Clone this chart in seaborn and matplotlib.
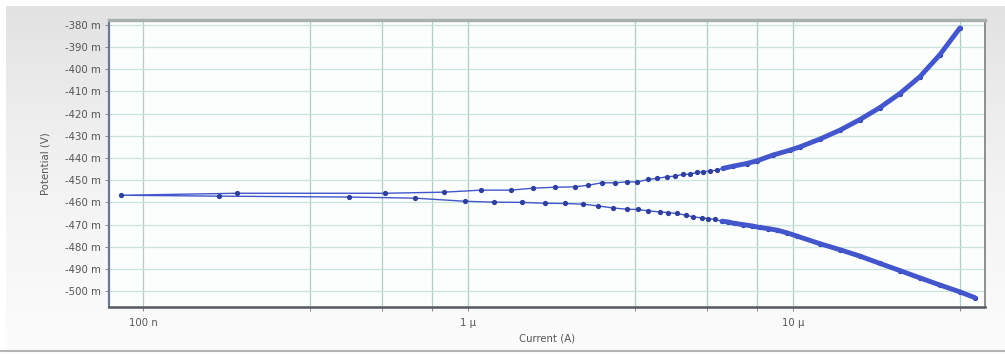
import numpy as np
import pandas as pd
import matplotlib
matplotlib.use("Agg")
import matplotlib.pyplot as plt
from matplotlib.lines import Line2D
from matplotlib.colors import LinearSegmentedColormap
from matplotlib.ticker import FixedLocator, FixedFormatter, FuncFormatter, NullFormatter
import seaborn as sns

# Cathodic branch of the polarisation sweep (high current -> corrosion potential)
cathodic_current_uA = [36.3, 32.65, 28.33, 24.60, 21.34, 18.53, 16.08, 13.95, 12.11,
                       10.29, 9.59, 8.93, 8.38, 7.91, 7.48, 7.02, 6.63, 6.31, 6.05,
                       5.75, 5.48, 5.25, 4.92, 4.69, 4.40, 4.125, 3.90, 3.58, 3.334,
                       3.085, 2.793, 2.512, 2.259, 1.988, 1.725, 1.466, 1.202, 0.979, 0.687,
                       0.4305, 0.1714]
cathodic_potential_mV = [-502.9, -500.3, -497.2, -494.0, -490.7, -487.5, -484.2, -481.3, -478.6,
                         -475.2, -473.7, -472.5, -471.8, -471.3, -470.6, -470.0, -469.5, -468.8, -468.5,
                         -467.7, -467.3, -467.0, -466.5, -465.8, -465.0, -464.6, -464.3, -463.8, -463.2,
                         -463.1, -462.5, -461.6, -460.8, -460.5, -460.4, -460.0, -459.9, -459.5, -458.1,
                         -457.6, -457.2]

# Point of minimum current (near the corrosion potential)
corrosion_current_uA = [0.0855]
corrosion_potential_mV = [-456.8]

# Anodic branch (corrosion potential -> end of sweep)
anodic_current_uA = [0.1946, 0.5554, 0.8436, 1.096, 1.356, 1.585, 1.852, 2.134, 2.34, 2.58,
                     2.83, 3.085, 3.31, 3.58, 3.82, 4.09, 4.33, 4.59, 4.82, 5.07,
                     5.29, 5.56, 5.84, 6.09, 6.54, 7.21, 7.75, 8.68, 9.79, 10.51,
                     12.11, 13.95, 16.08, 18.53, 21.34, 24.60, 28.33, 32.65]
anodic_potential_mV = [-455.9, -455.9, -455.4, -454.5, -454.5, -453.6, -453.2, -453.0, -452.3, -451.2,
                       -451.2, -450.8, -450.8, -449.7, -449.2, -448.5, -448.2, -447.4, -447.3, -446.5,
                       -446.3, -445.8, -445.5, -444.7, -443.7, -442.5, -441.3, -438.7, -436.5, -435.0,
                       -431.5, -427.5, -422.7, -417.3, -411.0, -403.4, -393.5, -381.5]

potential_ticks_mV = [-380, -390, -400, -410, -420, -430, -440, -450, -460, -470, -480, -490, -500]
current_ticks_A = [1e-7, 1e-6, 1e-5]
current_tick_labels = ["100 n", "1 \u00b5", "10 \u00b5"]

# ---------------------------------------------------------------------------
branch = (["cathodic"] * len(cathodic_current_uA) + ["corrosion"]
          + ["anodic"] * len(anodic_current_uA))
df = pd.DataFrame({
    "current": np.array(cathodic_current_uA + corrosion_current_uA + anodic_current_uA) * 1e-6,
    "potential": np.array(cathodic_potential_mV + corrosion_potential_mV + anodic_potential_mV) * 1e-3,
    "branch": branch,
})

sns.set_theme(style="white")
plt.rcParams["font.family"] = ["DejaVu Sans"]

W, H = 1005, 354
fig = plt.figure(figsize=(W / 100, H / 100), dpi=100)
fig.patch.set_facecolor("white")

# soft grey panel behind the chart
bg = fig.add_axes([6 / W, 4 / H, 1 - 6 / W, 1 - 10 / H], zorder=-10)
bg.axis("off")
panel = LinearSegmentedColormap.from_list("panel", ["#e2e2e2", "#eeeeee", "#f6f6f6", "#fcfcfc"])
bg.imshow(np.linspace(0, 1, 256)[:, None], cmap=panel, aspect="auto",
          extent=[0, 1, 0, 1], origin="upper")
bg.set_xlim(0, 1)
bg.set_ylim(0, 1)
fig.add_artist(Line2D([0, 1], [3 / H, 3 / H], color="#b4b4b4", lw=1.5))

ax = fig.add_axes([109 / W, 1 - 307 / H, 876 / W, 287 / H])
ax.set_facecolor("#fcfefe")

line_color = "#4356cc"
marker_color = "#2f3f9c"

# whole sweep: thin line with point markers
sns.lineplot(data=df, x="current", y="potential", sort=False, estimator=None,
             color=line_color, lw=1.0, marker="o", markersize=3.8,
             markeredgewidth=0, markerfacecolor=marker_color, ax=ax, zorder=3)

# dense high-current part reads as a heavy band of overlapping points
dense = df[(df["current"] >= 6.0e-6) & (df["branch"] != "corrosion")]
sns.lineplot(data=dense, x="current", y="potential", units="branch", sort=False,
             estimator=None, color=line_color, lw=3.5, solid_joinstyle="round",
             solid_capstyle="round", ax=ax, zorder=4)

ax.set_xscale("log")
ax.set_xlim(7.86e-8, 3.9e-5)
ax.set_ylim(-0.5071, -0.3779)

ax.xaxis.set_major_locator(FixedLocator(current_ticks_A))
ax.xaxis.set_major_formatter(FixedFormatter(current_tick_labels))
minor_pos = [m * 10.0 ** e for e in (-8, -7, -6, -5) for m in (3.27, 5.45, 7.77)]
ax.xaxis.set_minor_locator(FixedLocator(minor_pos))
ax.xaxis.set_minor_formatter(NullFormatter())

ax.yaxis.set_major_locator(FixedLocator([v * 1e-3 for v in potential_ticks_mV]))
ax.yaxis.set_major_formatter(FuncFormatter(lambda v, _: f"{round(v * 1000):d} m"))

ax.grid(True, which="both", axis="x", color="#b3ccc6", lw=0.9)
ax.grid(True, which="major", axis="y", color="#c8e5dd", lw=0.9)
ax.set_axisbelow(True)

ax.tick_params(axis="both", which="both", direction="out", length=3, width=0.7,
               color="#8a8a8a", labelsize=7.3, labelcolor="#555555",
               bottom=True, left=True, pad=3)
ax.tick_params(axis="x", pad=5)

for side, col, lw in (("left", "#6c7890", 1.6), ("bottom", "#555a60", 1.8),
                      ("top", "#a7b0ae", 2.4), ("right", "#8e8e8e", 1.4)):
    ax.spines[side].set_visible(True)
    ax.spines[side].set_color(col)
    ax.spines[side].set_linewidth(lw)

ax.set_xlabel("Current (A)", fontsize=7.3, color="#555555", labelpad=4)
ax.set_ylabel("Potential (V)", fontsize=7.3, color="#555555", labelpad=10)

fig.savefig("out.png", dpi=100, facecolor=fig.get_facecolor())
